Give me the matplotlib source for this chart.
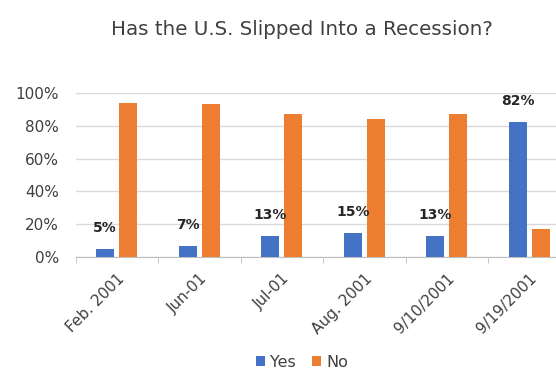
import matplotlib

matplotlib.use("Agg")
import matplotlib.pyplot as plt
import numpy as np
from matplotlib.ticker import PercentFormatter

BLUE = "#4472C4"
ORANGE = "#ED7D31"
GRID = "#D9D9D9"
TEXT = "#404040"

categories = ["Feb. 2001", "Jun-01", "Jul-01", "Aug. 2001", "9/10/2001", "9/19/2001"]
yes = [5, 7, 13, 15, 13, 82]
no = [94, 93, 87, 84, 87, 17]

plt.rcParams.update({
    "font.family": ["DejaVu Sans"],
    "text.color": TEXT,
    "xtick.color": TEXT,
    "ytick.color": TEXT,
})

fig = plt.figure(figsize=(5.56, 3.71), dpi=100)
# the right edge of the plot runs past the picture, as in the original
ax = fig.add_axes([75.5 / 556, 113.7 / 371, 495 / 556, 164.6 / 371])

x = np.arange(len(categories))
w = 0.22
gap = 0.06
off = (w + gap) / 2
ax.bar(x - off, yes, width=w, color=BLUE, label="Yes", zorder=3)
ax.bar(x + off, no, width=w, color=ORANGE, label="No", zorder=3)

for xi, v in zip(x, yes):
    ax.annotate(f"{v}%", (xi - off, v), textcoords="offset points",
                xytext=(0, 10), ha="center", va="bottom", fontsize=10,
                fontweight="bold", color="#262626")

ax.set_xlim(-0.5, len(categories) - 0.5)
ax.set_ylim(0, 100)
ax.set_yticks(range(0, 101, 20))
ax.yaxis.set_major_formatter(PercentFormatter(decimals=0))
ax.set_xticks(x)
ax.set_xticklabels(categories, rotation=45, ha="right", rotation_mode="anchor")
ax.set_xticks(np.arange(len(categories) + 1) - 0.5, minor=True)
ax.tick_params(axis="x", which="major", length=0, labelsize=11, pad=10)
ax.tick_params(axis="x", which="minor", length=4, color="#BFBFBF")
ax.tick_params(axis="y", length=0, labelsize=11, pad=12)

ax.grid(axis="y", color=GRID, linewidth=1, zorder=0)
for s in ["top", "right", "left"]:
    ax.spines[s].set_visible(False)
ax.spines["bottom"].set_color("#BFBFBF")

fig.suptitle("Has the U.S. Slipped Into a Recession?", x=0.543, y=0.945,
             fontsize=14.3)
fig.legend(loc="lower center", bbox_to_anchor=(0.543, -0.035), ncol=2,
           frameon=False, fontsize=11.5, handlelength=0.6, handleheight=0.6,
           handletextpad=0.3, columnspacing=1.0)

fig.savefig("out.png", dpi=100)
